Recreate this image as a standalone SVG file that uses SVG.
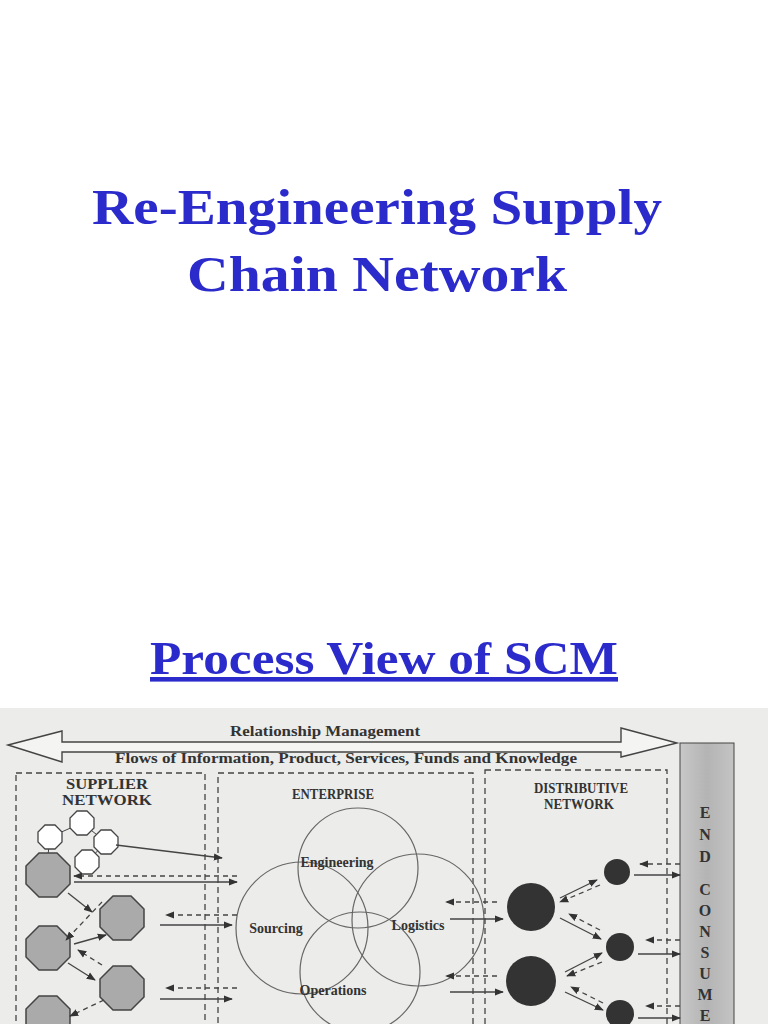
<svg xmlns="http://www.w3.org/2000/svg" width="768" height="1024" viewBox="0 0 768 1024">
<defs>
<linearGradient id="g" x1="0" x2="1"><stop offset="0" stop-color="#c8c8c8"/><stop offset="0.5" stop-color="#b4b4b4"/><stop offset="1" stop-color="#c4c4c4"/></linearGradient>
<marker id="a" viewBox="0 0 10 10" refX="9" refY="5" markerWidth="7" markerHeight="7" orient="auto"><path d="M0,1 L10,5 L0,9 z" fill="#333"/></marker>
<polygon id="oct" points="-9,-22 9,-22 22,-9 22,9 9,22 -9,22 -22,9 -22,-9"/>
<polygon id="so" points="-5,-12 5,-12 12,-5 12,5 5,12 -5,12 -12,5 -12,-5"/>
</defs>
<style>
.t{font-family:"Liberation Serif",serif;font-weight:bold;fill:#2b2bcc;text-anchor:middle}
.d{font-family:"Liberation Serif",serif;font-weight:bold;fill:#333;text-anchor:middle}
.box{fill:none;stroke:#444;stroke-width:1.3;stroke-dasharray:6,4}
.s{stroke:#444;stroke-width:1.3;fill:none;marker-end:url(#a)}
.ds{stroke:#444;stroke-width:1.3;fill:none;stroke-dasharray:5,4;marker-end:url(#a)}
.c{fill:none;stroke:#666;stroke-width:1.2}
.go{fill:#aaa;stroke:#444;stroke-width:1.5}
.wo{fill:#fff;stroke:#444;stroke-width:1.3}
.dk{fill:#333}
</style>
<rect width="768" height="1024" fill="#fff"/>
<text class="t" x="377" y="224" font-size="50" textLength="570" lengthAdjust="spacingAndGlyphs">Re-Engineering Supply</text>
<text class="t" x="377" y="291" font-size="50" textLength="380" lengthAdjust="spacingAndGlyphs">Chain Network</text>
<text class="t" x="384" y="674" font-size="46" text-decoration="underline" textLength="468" lengthAdjust="spacingAndGlyphs">Process View of SCM</text>
<rect x="0" y="708" width="768" height="316" fill="#ececea"/>
<g id="arrow">
<polygon points="8,745 62,731 62,742 621,742 621,728 677,743 621,757 621,752 62,752 62,762" fill="#f4f4f2" stroke="#444" stroke-width="1.4"/>
<text class="d" x="325" y="736" font-size="14" textLength="190" lengthAdjust="spacingAndGlyphs">Relationship Management</text>
<text class="d" x="346" y="763" font-size="14" textLength="462" lengthAdjust="spacingAndGlyphs">Flows of Information, Product, Services, Funds and Knowledge</text>
</g>
<g id="end-consumer">
<rect x="680" y="743" width="54" height="290" fill="url(#g)" stroke="#444"/>
<g class="d" font-size="16">
<text x="705" y="818">E</text><text x="705" y="840">N</text><text x="705" y="862">D</text>
<text x="705" y="895">C</text><text x="705" y="916">O</text><text x="705" y="937">N</text><text x="705" y="958">S</text><text x="705" y="979">U</text><text x="705" y="1000">M</text><text x="705" y="1021">E</text>
</g>
</g>
<g id="supplier">
<rect class="box" x="16" y="773" width="189" height="270"/>
<text class="d" x="107" y="789" font-size="14" textLength="82" lengthAdjust="spacingAndGlyphs">SUPPLIER</text>
<text class="d" x="107" y="805" font-size="14" textLength="90" lengthAdjust="spacingAndGlyphs">NETWORK</text>
<path d="M50,837 L82,823 L106,842 L87,862 M50,837 L48,855" stroke="#444" fill="none"/>
<use href="#so" x="50" y="837" class="wo"/><use href="#so" x="82" y="823" class="wo"/>
<use href="#so" x="106" y="842" class="wo"/><use href="#so" x="87" y="862" class="wo"/>
<use href="#oct" x="48" y="875" class="go"/><use href="#oct" x="122" y="918" class="go"/>
<use href="#oct" x="48" y="948" class="go"/><use href="#oct" x="122" y="988" class="go"/>
<use href="#oct" x="48" y="1018" class="go"/>
</g>
<g id="enterprise">
<rect class="box" x="218" y="773" width="255" height="270"/>
<text class="d" x="333" y="799" font-size="14" textLength="82" lengthAdjust="spacingAndGlyphs">ENTERPRISE</text>
<circle class="c" cx="358" cy="868" r="60"/><circle class="c" cx="302" cy="928" r="66"/>
<circle class="c" cx="418" cy="920" r="66"/><circle class="c" cx="360" cy="972" r="60"/>
<text class="d" x="337" y="867" font-size="14">Engineering</text>
<text class="d" x="276" y="933" font-size="14">Sourcing</text>
<text class="d" x="418" y="930" font-size="14">Logistics</text>
<text class="d" x="333" y="995" font-size="14">Operations</text>
</g>
<g id="distributive">
<rect class="box" x="485" y="770" width="182" height="270"/>
<text class="d" x="581" y="793" font-size="14" textLength="94" lengthAdjust="spacingAndGlyphs">DISTRIBUTIVE</text>
<text class="d" x="579" y="809" font-size="14" textLength="70" lengthAdjust="spacingAndGlyphs">NETWORK</text>
<circle class="dk" cx="531" cy="907" r="24"/><circle class="dk" cx="617" cy="872" r="13"/>
<circle class="dk" cx="620" cy="947" r="14"/><circle class="dk" cx="531" cy="981" r="25"/>
<circle class="dk" cx="620" cy="1014" r="14"/>
</g>
<g id="connectors">
<path class="s" d="M116,845 L222,858"/>
<path class="ds" d="M237,876 L74,876"/><path class="s" d="M74,882 L237,882"/>
<path class="ds" d="M237,915 L166,915"/><path class="s" d="M160,925 L232,925"/>
<path class="ds" d="M237,988 L166,988"/><path class="s" d="M160,999 L232,999"/>
<path class="s" d="M68,893 L92,912"/><path class="ds" d="M102,902 L66,940"/>
<path class="s" d="M74,944 L106,935"/><path class="ds" d="M102,965 L78,950"/>
<path class="s" d="M68,963 L95,980"/><path class="ds" d="M104,1000 L70,1016"/>
<path class="ds" d="M497,902 L446,902"/><path class="s" d="M450,919 L503,919"/>
<path class="ds" d="M497,976 L446,976"/><path class="s" d="M450,992 L503,992"/>
<path class="s" d="M560,898 L597,880"/><path class="ds" d="M600,885 L560,902"/>
<path class="s" d="M560,918 L601,939"/><path class="ds" d="M600,930 L569,914"/>
<path class="s" d="M565,972 L602,953"/><path class="ds" d="M602,962 L567,976"/>
<path class="s" d="M565,992 L603,1010"/><path class="ds" d="M603,1003 L571,987"/>
<path class="ds" d="M680,864 L640,864"/><path class="s" d="M634,875 L680,875"/>
<path class="ds" d="M680,940 L646,940"/><path class="s" d="M638,954 L680,954"/>
<path class="ds" d="M680,1006 L646,1006"/><path class="s" d="M638,1018 L680,1018"/>
</g>
</svg>
